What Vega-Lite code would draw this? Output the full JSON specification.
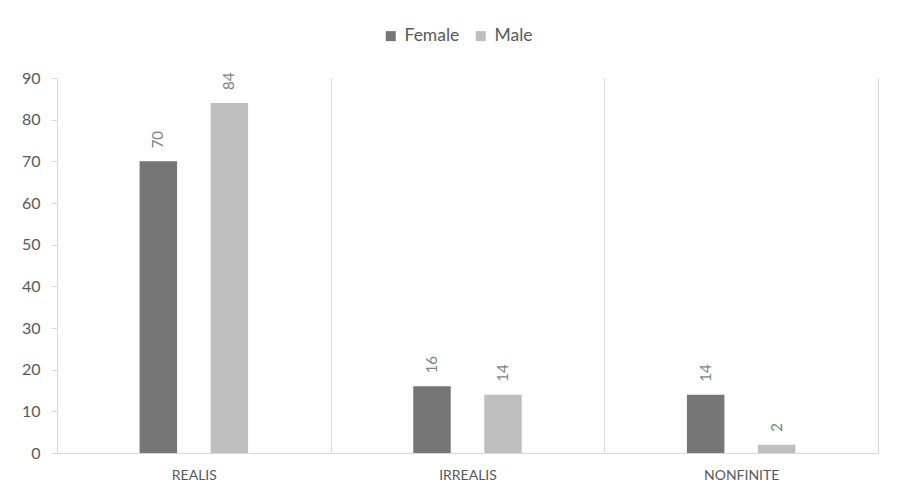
{
  "$schema": "https://vega.github.io/schema/vega-lite/v6.json",
  "width": 821,
  "height": 375,
  "autosize": "none",
  "padding": {"left": 57, "top": 78, "right": 21, "bottom": 43},
  "background": "white",
  "config": {"view": {"stroke": null}, "font": "Lato"},
  "data": {
    "values": [
      {"category": "REALIS", "gender": "Female", "value": 70},
      {"category": "REALIS", "gender": "Male", "value": 84},
      {"category": "IRREALIS", "gender": "Female", "value": 16},
      {"category": "IRREALIS", "gender": "Male", "value": 14},
      {"category": "NONFINITE", "gender": "Female", "value": 14},
      {"category": "NONFINITE", "gender": "Male", "value": 2}
    ]
  },
  "encoding": {
    "x": {
      "field": "category",
      "type": "nominal",
      "sort": ["REALIS", "IRREALIS", "NONFINITE"],
      "scale": {"paddingInner": 0, "paddingOuter": 0},
      "axis": {
        "title": null,
        "labelAngle": 0,
        "tickBand": "extent",
        "ticks": false,
        "grid": true,
        "gridColor": "#d9d9d9",
        "domainColor": "#d9d9d9",
        "labelColor": "#595959",
        "labelFontSize": 14,
        "labelPadding": 15
      }
    },
    "xOffset": {
      "field": "gender",
      "type": "nominal",
      "scale": {"domain": ["_left", "Female", "Male", "_right"], "paddingInner": 0.472, "paddingOuter": 0.163}
    },
    "y": {
      "field": "value",
      "type": "quantitative",
      "scale": {"domain": [0, 90]},
      "axis": {
        "title": null,
        "grid": false,
        "values": [0, 10, 20, 30, 40, 50, 60, 70, 80, 90],
        "domainColor": "#d9d9d9",
        "tickColor": "#d9d9d9",
        "tickSize": 6,
        "labelFontSize": 16,
        "labelColor": "#595959",
        "labelPadding": 11
      }
    }
  },
  "layer": [
    {
      "mark": {"type": "bar"},
      "encoding": {
        "color": {
          "field": "gender",
          "type": "nominal",
          "scale": {"domain": ["Female", "Male"], "range": ["#767676", "#bfbfbf"]},
          "legend": {
            "title": null,
            "orient": "none",
            "legendX": 325,
            "legendY": -51,
            "direction": "horizontal",
            "symbolType": "square",
            "symbolSize": 100,
            "symbolStrokeWidth": 0,
            "labelFontSize": 17.5,
            "labelColor": "#595959",
            "labelOffset": 5,
            "columnPadding": 12
          }
        }
      }
    },
    {
      "mark": {
        "type": "text",
        "angle": 270,
        "align": "left",
        "baseline": "middle",
        "dx": 13,
        "fontSize": 15,
        "color": "#7f7f7f"
      },
      "encoding": {"text": {"field": "value", "type": "quantitative"}}
    }
  ]
}
